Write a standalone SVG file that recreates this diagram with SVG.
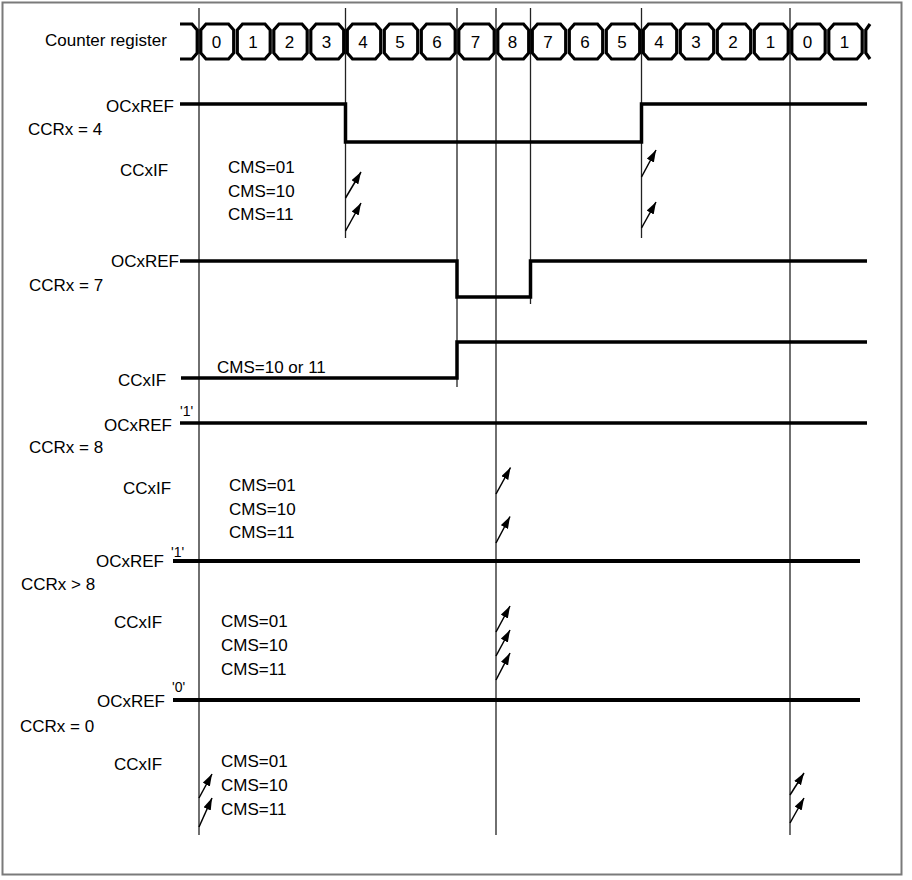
<svg xmlns="http://www.w3.org/2000/svg" width="912" height="880" viewBox="0 0 912 880">
<style>
text{font-family:"Liberation Sans",Arial,sans-serif;font-size:17px;fill:#000}
.q{font-size:14px}
.d{text-anchor:middle}
.r{text-anchor:end}
.cell{fill:#fff;stroke:#000;stroke-width:3.2;stroke-linejoin:miter}
.stub{fill:none;stroke:#000;stroke-width:3.2}
.sig{fill:none;stroke:#000;stroke-width:3.5;stroke-linejoin:miter}
.sig2{fill:none;stroke:#000;stroke-width:4}
.vl{stroke:#222;stroke-width:1.3;fill:none}
.ar{stroke:#000;stroke-width:1.5;fill:none;marker-end:url(#ah)}
</style>
<defs>
<marker id="ah" markerWidth="13" markerHeight="9" refX="12" refY="4" orient="auto" markerUnits="userSpaceOnUse">
<path d="M0,0 L12,4 L0,8 Z" fill="#000"/>
</marker>
</defs>
<rect x="2.5" y="2.5" width="899" height="872" fill="#fff" stroke="#7a7a7a" stroke-width="2"/>

<g id="connectors">
<line class="vl" x1="199" y1="8" x2="199" y2="835"/>
<line class="vl" x1="345.5" y1="8" x2="345.5" y2="238"/>
<line class="vl" x1="457" y1="8" x2="457" y2="387"/>
<line class="vl" x1="496" y1="8" x2="496" y2="835"/>
<line class="vl" x1="530.5" y1="8" x2="530.5" y2="304"/>
<line class="vl" x1="641.5" y1="8" x2="641.5" y2="238"/>
<line class="vl" x1="790" y1="8" x2="790" y2="835"/>
</g>

<g id="counter-register">
<text x="45" y="46">Counter register</text>
<path class="stub" d="M180,24 L192,24 L197.2,30 L197.2,53 L192,59 L180,59"/>
<path class="cell" d="M200.8,30 L206,24 L228.5,24 L233.7,30 L233.7,53 L228.5,59 L206,59 L200.8,53 Z"/>
<path class="cell" d="M237.3,30 L242.5,24 L265,24 L270.2,30 L270.2,53 L265,59 L242.5,59 L237.3,53 Z"/>
<path class="cell" d="M273.8,30 L279,24 L302,24 L307.2,30 L307.2,53 L302,59 L279,59 L273.8,53 Z"/>
<path class="cell" d="M310.8,30 L316,24 L338.5,24 L343.7,30 L343.7,53 L338.5,59 L316,59 L310.8,53 Z"/>
<path class="cell" d="M347.3,30 L352.5,24 L375.5,24 L380.7,30 L380.7,53 L375.5,59 L352.5,59 L347.3,53 Z"/>
<path class="cell" d="M384.3,30 L389.5,24 L412.5,24 L417.7,30 L417.7,53 L412.5,59 L389.5,59 L384.3,53 Z"/>
<path class="cell" d="M421.3,30 L426.5,24 L450,24 L455.2,30 L455.2,53 L450,59 L426.5,59 L421.3,53 Z"/>
<path class="cell" d="M458.8,30 L464,24 L489,24 L494.2,30 L494.2,53 L489,59 L464,59 L458.8,53 Z"/>
<path class="cell" d="M497.8,30 L503,24 L523.5,24 L528.7,30 L528.7,53 L523.5,59 L503,59 L497.8,53 Z"/>
<path class="cell" d="M532.3,30 L537.5,24 L560.5,24 L565.7,30 L565.7,53 L560.5,59 L537.5,59 L532.3,53 Z"/>
<path class="cell" d="M569.3,30 L574.5,24 L597.5,24 L602.7,30 L602.7,53 L597.5,59 L574.5,59 L569.3,53 Z"/>
<path class="cell" d="M606.3,30 L611.5,24 L634.5,24 L639.7,30 L639.7,53 L634.5,59 L611.5,59 L606.3,53 Z"/>
<path class="cell" d="M643.3,30 L648.5,24 L671.5,24 L676.7,30 L676.7,53 L671.5,59 L648.5,59 L643.3,53 Z"/>
<path class="cell" d="M680.3,30 L685.5,24 L708.5,24 L713.7,30 L713.7,53 L708.5,59 L685.5,59 L680.3,53 Z"/>
<path class="cell" d="M717.3,30 L722.5,24 L745.5,24 L750.7,30 L750.7,53 L745.5,59 L722.5,59 L717.3,53 Z"/>
<path class="cell" d="M754.3,30 L759.5,24 L783,24 L788.2,30 L788.2,53 L783,59 L759.5,59 L754.3,53 Z"/>
<path class="cell" d="M791.8,30 L797,24 L820,24 L825.2,30 L825.2,53 L820,59 L797,59 L791.8,53 Z"/>
<path class="cell" d="M828.8,30 L834,24 L857,24 L862.2,30 L862.2,53 L857,59 L834,59 L828.8,53 Z"/>
<path class="stub" d="M870,24 L865.8,30 L865.8,53 L870,59"/>
<text class="d" x="216.5" y="48">0</text>
<text class="d" x="253" y="48">1</text>
<text class="d" x="289.5" y="48">2</text>
<text class="d" x="326.5" y="48">3</text>
<text class="d" x="363" y="48">4</text>
<text class="d" x="400" y="48">5</text>
<text class="d" x="437" y="48">6</text>
<text class="d" x="475.5" y="48">7</text>
<text class="d" x="512.5" y="48">8</text>
<text class="d" x="548" y="48">7</text>
<text class="d" x="585" y="48">6</text>
<text class="d" x="622" y="48">5</text>
<text class="d" x="659" y="48">4</text>
<text class="d" x="696" y="48">3</text>
<text class="d" x="733" y="48">2</text>
<text class="d" x="770.5" y="48">1</text>
<text class="d" x="807.5" y="48">0</text>
<text class="d" x="844.5" y="48">1</text>
</g>

<g id="ccrx-4">
<text class="r" x="174" y="112">OCxREF</text>
<text x="28" y="135">CCRx = 4</text>
<text x="120" y="176">CCxIF</text>
<text x="228" y="173">CMS=01</text>
<text x="228" y="197">CMS=10</text>
<text x="228" y="220">CMS=11</text>
<path class="sig" d="M180,104 H345.5 V142 H641.5 V104 H867"/>
<line class="ar" x1="345.5" y1="198" x2="361" y2="172"/>
<line class="ar" x1="345.5" y1="231" x2="361" y2="203"/>
<line class="ar" x1="641.5" y1="177" x2="656" y2="150"/>
<line class="ar" x1="641.5" y1="228" x2="656" y2="202"/>
</g>

<g id="ccrx-7">
<text class="r" x="179" y="267">OCxREF</text>
<text x="29" y="291">CCRx = 7</text>
<text x="118" y="386">CCxIF</text>
<text x="217" y="373">CMS=10 or 11</text>
<path class="sig" d="M180,261 H457 V297 H530.5 V261 H867"/>
<path class="sig" d="M181,378 H457 V342 H867"/>
</g>

<g id="ccrx-8">
<text class="q" x="180" y="416">'1'</text>
<text class="r" x="172" y="431">OCxREF</text>
<text x="29" y="453">CCRx = 8</text>
<text x="123" y="494">CCxIF</text>
<text x="229" y="491">CMS=01</text>
<text x="229" y="515">CMS=10</text>
<text x="229" y="538">CMS=11</text>
<path class="sig" d="M180,423 H867"/>
<line class="ar" x1="496" y1="494" x2="510.5" y2="467.5"/>
<line class="ar" x1="496" y1="543" x2="510" y2="516.5"/>
</g>

<g id="ccrx-gt-8">
<text class="q" x="171" y="557">'1'</text>
<text class="r" x="164" y="567">OCxREF</text>
<text x="21" y="590">CCRx &gt; 8</text>
<text x="114" y="628">CCxIF</text>
<text x="221" y="627">CMS=01</text>
<text x="221" y="651">CMS=10</text>
<text x="221" y="675">CMS=11</text>
<path class="sig2" d="M173,561 H860"/>
<line class="ar" x1="496" y1="632" x2="510" y2="606"/>
<line class="ar" x1="496" y1="656" x2="510" y2="630"/>
<line class="ar" x1="496" y1="680" x2="510" y2="653"/>
</g>

<g id="ccrx-0">
<text class="q" x="172" y="692">'0'</text>
<text class="r" x="165" y="707">OCxREF</text>
<text x="20" y="732">CCRx = 0</text>
<text x="114" y="770">CCxIF</text>
<text x="221" y="767">CMS=01</text>
<text x="221" y="791">CMS=10</text>
<text x="221" y="815">CMS=11</text>
<path class="sig2" d="M173,700 H860"/>
<line class="ar" x1="199" y1="798" x2="212" y2="774"/>
<line class="ar" x1="199" y1="827" x2="212" y2="798"/>
<line class="ar" x1="790" y1="795" x2="804" y2="773"/>
<line class="ar" x1="790" y1="823" x2="804" y2="798"/>
</g>
</svg>
